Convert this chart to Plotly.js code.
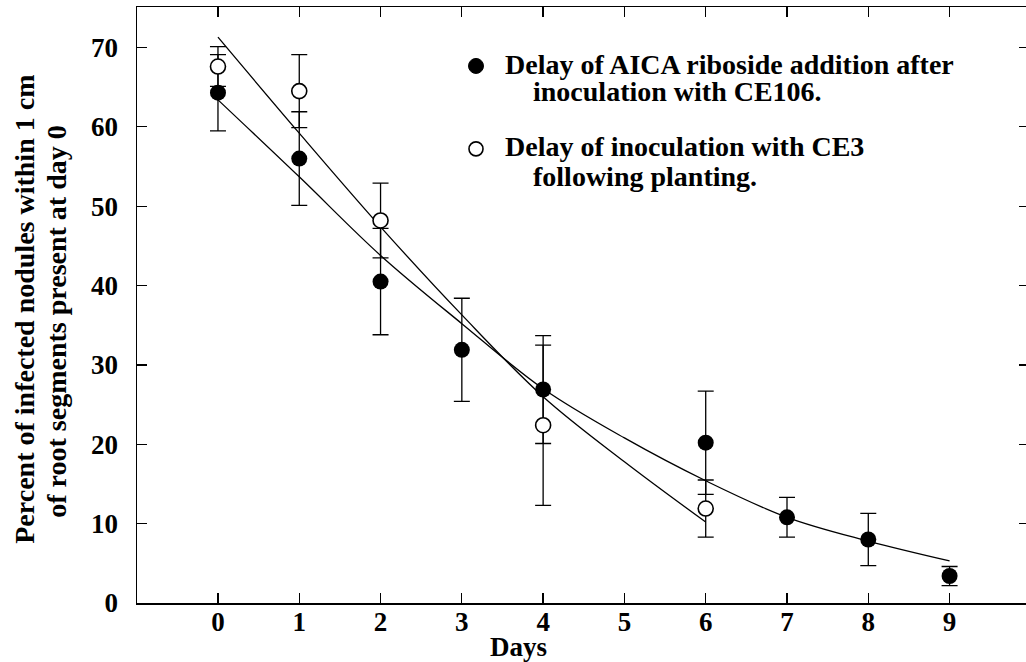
<!DOCTYPE html>
<html>
<head>
<meta charset="utf-8">
<script src="https://cdn.plot.ly/plotly-3.0.1.min.js"></script>
<style>html,body{margin:0;padding:0;background:#fff;overflow:hidden;}#chart{width:1029px;height:662px;}</style>
</head>
<body>
<div id="chart"></div>
<script>
// ---- data ----
const days = [0, 1, 2, 3, 4, 6, 7, 8, 9];
const aicaMean = [64.3, 56.0, 40.5, 31.9, 26.9, 20.2, 10.8, 8.0, 3.4];
const aicaErr  = [4.8, 5.9, 6.7, 6.5, 6.8, 6.5, 2.5, 3.3, 1.2];

const ce3Days = [0, 1, 2, 4, 6];
const ce3Mean = [67.6, 64.5, 48.2, 22.4, 11.9];
const ce3Err  = [2.5, 4.6, 4.7, 10.1, 3.6];

const aicaFitDays = [0, 1, 2, 3, 4, 5, 6, 7, 8, 9];
const aicaFit     = [63.4, 53.7, 43.8, 35.2, 27.0, 20.8, 15.4, 10.8, 7.8, 5.3];
const ce3FitDays  = [0, 1, 2, 3, 4, 5, 6];
const ce3Fit      = [71.3, 59.2, 47.4, 36.3, 26.0, 17.8, 10.2];

const xTicks = [0, 1, 2, 3, 4, 5, 6, 7, 8, 9];
const yTicks = [0, 10, 20, 30, 40, 50, 60, 70];

const legendLines = [
  "Delay of AICA riboside addition after",
  "inoculation with CE106.",
  "Delay of inoculation with CE3",
  "following planting."
];
const yTitleLines = [
  "Percent of infected nodules within 1 cm",
  "of root segments present at day 0"
];
const xTitle = "Days";

// ---- layout helpers (pixel -> paper) ----
// plot is 3px wider than the window so the right frame line falls just off the picture, as in the scan
const W = 1029, H = 662;
const mL = 137, mR = 0, mT = 7, mB = 58.5;
const pw = W - mL - mR, ph = H - mT - mB;
const px = x => (x - mL) / pw;
const py = y => (H - mB - y) / ph;

const serif = "Liberation Serif, Times New Roman, serif";
const txtFont = {family: serif, size: 28, color: "#000", weight: "bold"};

const traces = [
  {x: aicaFitDays, y: aicaFit, mode: "lines", type: "scatter",
   line: {color: "#000", width: 1.3, shape: "spline", smoothing: 1}, hoverinfo: "skip", showlegend: false},
  {x: ce3FitDays, y: ce3Fit, mode: "lines", type: "scatter",
   line: {color: "#000", width: 1.3, shape: "spline", smoothing: 1}, hoverinfo: "skip", showlegend: false},
  {x: days, y: aicaMean, mode: "markers", type: "scatter",
   marker: {symbol: "circle", size: 16, color: "#000"},
   error_y: {type: "data", array: aicaErr, visible: true, color: "#000", thickness: 1.3, width: 8},
   showlegend: false},
  {x: ce3Days, y: ce3Mean, mode: "markers", type: "scatter",
   marker: {symbol: "circle", size: 15, color: "#fff", line: {color: "#000", width: 1.6}},
   error_y: {type: "data", array: ce3Err, visible: true, color: "#000", thickness: 1.3, width: 8},
   showlegend: false}
];

const axisCommon = {
  showline: true, linecolor: "#000", linewidth: 1.5, mirror: "ticks",
  ticks: "inside", ticklen: 10, tickwidth: 1.3, tickcolor: "#000",
  showgrid: false, zeroline: false,
  tickfont: {family: serif, size: 27, color: "#000", weight: "bold"}
};

function ann(text, x, y, xa, extra) {
  return Object.assign({text: text, x: px(x), y: py(y), xref: "paper", yref: "paper",
    xanchor: xa, yanchor: "middle", showarrow: false, font: txtFont}, extra || {});
}

const annotations = [
  ann(legendLines[0], 503, 65, "left"),
  ann(legendLines[1], 531, 92, "left"),
  ann(legendLines[2], 503, 147, "left"),
  ann(legendLines[3], 531, 177, "left"),
  ann(yTitleLines[0], 25, 310, "center", {textangle: -90}),
  ann(yTitleLines[1], 57, 322, "center", {textangle: -90}),
  ann(xTitle, 518, 648, "center", {font: {family: serif, size: 27, color: "#000", weight: "bold"}})
];

const shapes = [
  {type: "circle", xref: "paper", yref: "paper", xsizemode: "pixel", ysizemode: "pixel",
   xanchor: px(476), yanchor: py(66), x0: -7.5, x1: 7.5, y0: -7.5, y1: 7.5,
   fillcolor: "#000", line: {color: "#000", width: 1}},
  {type: "circle", xref: "paper", yref: "paper", xsizemode: "pixel", ysizemode: "pixel",
   xanchor: px(476), yanchor: py(149), x0: -7, x1: 7, y0: -7, y1: 7,
   fillcolor: "#fff", line: {color: "#000", width: 1.6}}
];

const layout = {
  width: W, height: H,
  margin: {l: mL, r: mR, t: mT, b: mB, pad: 0},
  paper_bgcolor: "#fff", plot_bgcolor: "#fff",
  showlegend: false,
  xaxis: Object.assign({}, axisCommon, {
    range: [-0.996, 9.977], tickvals: xTicks, ticktext: xTicks.map(String), ticklabelstandoff: -6
  }),
  yaxis: Object.assign({}, axisCommon, {
    range: [0, 75.1], tickvals: yTicks, ticktext: yTicks.map(String), ticklabelstandoff: 12
  }),
  annotations: annotations,
  shapes: shapes
};

Plotly.newPlot("chart", traces, layout, {displayModeBar: false, staticPlot: true});
</script>
</body>
</html>
